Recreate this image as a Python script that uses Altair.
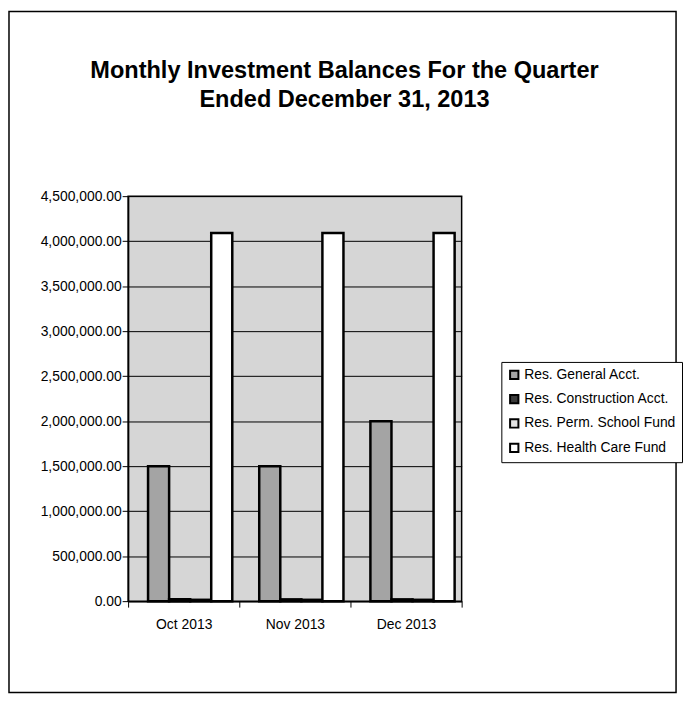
import altair as alt
import pandas as pd

months = ["Oct 2013", "Nov 2013", "Dec 2013"]
series = ["Res. General Acct.", "Res. Construction Acct.", "Res. Perm. School Fund", "Res. Health Care Fund"]
general = [1500000, 1500000, 2000000]
construction = [20000, 20000, 20000]
school = [15000, 15000, 15000]
health = [4090000, 4090000, 4090000]
y_ticks = [0, 500000, 1000000, 1500000, 2000000, 2500000, 3000000, 3500000, 4000000, 4500000]
colors = ["#a4a4a4", "#3a3a3a", "#e2e2e2", "#ffffff"]

rows = []
for name, vals in zip(series, [general, construction, school, health]):
    for m, v in zip(months, vals):
        rows.append({"month": m, "series": name, "value": v})
df = pd.DataFrame(rows)

FONT = "Liberation Sans"

bars = alt.Chart(df).mark_bar(stroke="black", strokeWidth=2.5).encode(
    x=alt.X("month:N", sort=months,
            scale=alt.Scale(paddingInner=0, paddingOuter=0),
            axis=alt.Axis(title=None, labelAngle=0, tickBand="extent", labelFont=FONT,
                          labelFontSize=14, labelColor="black", domainColor="black",
                          tickColor="black", tickSize=6, labelPadding=11, domainWidth=1.5)),
    xOffset=alt.XOffset("series:N", sort=series,
                        scale=alt.Scale(paddingInner=0, paddingOuter=0.64, align=0.74)),
    y=alt.Y("value:Q", scale=alt.Scale(domain=[0, 4500000], nice=False),
            axis=alt.Axis(title=None, values=y_ticks, format=",.2f", labelFont=FONT,
                          labelFontSize=14, labelColor="black", domainColor="black",
                          tickColor="black", tickSize=6, labelPadding=1,
                          gridColor="black", gridWidth=1, domainWidth=1.5)),
    color=alt.Color("series:N", sort=series,
                    scale=alt.Scale(domain=series, range=colors),
                    legend=alt.Legend(title=None, orient="none", legendX=376, legendY=167,
                                      symbolType="square", symbolSize=70,
                                      symbolStrokeColor="black", symbolStrokeWidth=2,
                                      labelFont=FONT, labelFontSize=14, labelColor="black",
                                      labelLimit=400,
                                      rowPadding=6.5, padding=6, strokeColor="black",
                                      fillColor="white", labelOffset=3)),
)

frame = alt.Chart(alt.Data(values=[{"a": 1}])).mark_rect(
    filled=False, stroke="black", strokeWidth=1.5
).encode(
    x=alt.value(-120), x2=alt.value(552), y=alt.value(-186), y2=alt.value(500)
)

chart = alt.layer(bars, frame).properties(
    width=336, height=408,
    padding=0,
    title=alt.TitleParams(
        text=["Monthly Investment Balances For the Quarter", "Ended December 31, 2013"],
        font=FONT, fontSize=23.7, fontWeight="bold", color="black",
        anchor="middle", dx=50, offset=-102, lineHeight=30,
    ),
).configure_view(fill="#d6d6d6", stroke="black", strokeWidth=1.5)

chart.save("out.html", embed_options={"renderer": "svg", "actions": False})
